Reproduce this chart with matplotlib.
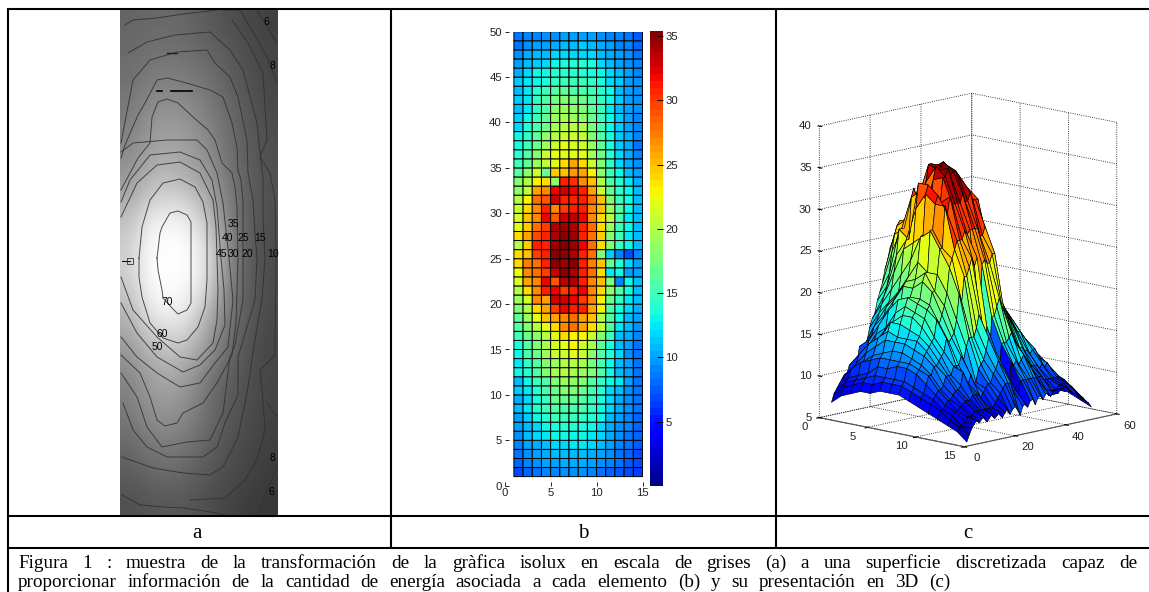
import numpy as np
import matplotlib
matplotlib.use('Agg')
import matplotlib.pyplot as plt
from mpl_toolkits.mplot3d import Axes3D, proj3d

W, H = 1149, 592

# panel b / c: energy per element, rows from y=1 (bottom) to y=50 (top)
energy_rows_top_down = [
    [8.5, 9, 9, 9.5, 9.5, 10, 10, 10, 10, 9.5, 9, 9, 8.5, 7.5],
    [8.5, 9.5, 10, 10, 10.5, 11, 11, 11.5, 11, 10.5, 10, 9, 9, 8],
    [9.5, 10.5, 11, 11, 12, 12, 12, 12, 12, 11, 10.5, 10, 9.5, 8.5],
    [10, 11, 11.5, 12, 13, 13.5, 14, 14, 13.5, 12, 11, 10, 9.5, 9],
    [10.5, 12, 13, 13, 14, 14, 14, 14, 13.5, 13, 12, 11, 10, 9],
    [11.5, 12.5, 13, 13.5, 14.5, 15, 15, 15, 14.5, 13.5, 12, 11.5, 10, 9.5],
    [11, 12.5, 14, 15, 16, 16.5, 16, 15.5, 15, 14, 13, 11, 10, 9.5],
    [11.5, 12.5, 14.5, 16, 17.5, 18, 17.5, 17, 16, 14.5, 13, 11.5, 10, 9.5],
    [11, 12.5, 14.5, 16, 18.5, 19, 18.5, 18, 16.5, 15, 12.5, 11, 10, 9.5],
    [11.5, 13, 15, 16.5, 19, 19.5, 19, 18.5, 17, 15, 13, 11.5, 10, 9],
    [12, 14, 15.5, 17, 19.5, 20, 20, 20, 17.5, 15.5, 13, 11.5, 10, 9],
    [13, 14.5, 16.5, 18.5, 20, 21, 21, 20.5, 18, 16, 13.5, 11.5, 10.5, 9],
    [13.5, 15, 17, 19, 21, 22, 21.5, 21, 19, 16.5, 13.5, 11.5, 10.5, 8.5],
    [14, 16, 18, 21, 22, 22, 22, 22, 19.5, 17, 14, 12, 10.5, 9],
    [15, 16.5, 19, 20.5, 22, 24, 26, 24, 21, 18, 14.5, 12, 10.5, 9.5],
    [16, 18.5, 21, 16.5, 24.5, 25, 26.5, 26, 23, 18.5, 15, 13, 11, 10],
    [18, 20, 23, 24, 18.5, 31, 30.5, 27, 25, 20, 16, 14, 12.5, 10.5],
    [18.5, 20.5, 26, 27, 32, 33, 32, 31, 26, 21, 17, 14.5, 13, 11],
    [20, 23, 28, 29, 33, 31, 31, 31, 28, 25, 18, 15, 13.5, 11],
    [21, 24, 27, 31, 27, 30, 31, 31, 27, 25, 19, 16, 13, 11],
    [21.5, 25, 27, 32, 29, 33, 33.5, 32, 27, 24, 20, 15.5, 12.5, 11],
    [22, 24.5, 28, 30, 34, 34.5, 34, 31, 28, 24, 19, 15, 13, 11],
    [24, 26, 29.5, 31, 34, 35, 34.5, 31, 28, 24.5, 18, 15, 12.5, 11],
    [20, 24.5, 31, 31, 34.5, 35.4, 34.5, 32, 28, 24, 18, 15, 13, 11],
    [24, 25, 30, 31, 35, 35, 34, 31, 28, 18, 11.5, 9, 7, 9],
    [24, 27.5, 28, 31, 35, 34.5, 35, 31, 27.5, 25, 17, 14, 12, 10],
    [22.5, 27, 28, 30, 33, 35, 34, 31, 28, 24, 12.5, 13, 10, 10],
    [21.5, 26, 27, 32, 29, 33.5, 34, 31, 27, 25, 18, 9, 13, 11],
    [20, 24, 27, 31, 32, 30, 31, 32, 27, 24, 18.5, 16, 13.5, 11],
    [19, 21.5, 27, 26, 33, 33, 32, 30, 27, 23, 17, 14.5, 12.5, 11],
    [18, 20, 24, 26, 30, 32, 31, 31, 26, 23, 16, 13.5, 12, 10.5],
    [16.5, 19, 22, 25, 26, 27, 28, 26, 25, 20, 16, 13, 11, 10],
    [16, 18, 20, 22, 24, 27, 28, 26, 24, 21, 16, 12.5, 11, 9.5],
    [15, 17, 18.5, 20, 22, 24, 23, 23, 21, 18, 15, 11, 10.5, 9],
    [13.5, 16, 18, 19.5, 21.5, 22, 23, 21, 19.5, 16.5, 13.5, 11, 10, 8.5],
    [13, 15.5, 17, 19, 21, 21, 22, 21, 18.5, 16, 14, 12, 9.5, 8.5],
    [12.5, 14.5, 16, 18, 19, 20, 20, 19.5, 17.5, 15.5, 13, 11, 10, 8.5],
    [13, 14, 16, 18, 19.5, 20, 19.5, 19, 18, 16, 13, 11, 10, 8.5],
    [11, 13, 15, 16, 18, 19, 18.5, 18, 16, 14.5, 13, 12.5, 10, 8.5],
    [11.5, 12.5, 14, 15.5, 17, 18, 18, 17, 15.5, 14, 12, 11, 9.5, 8.5],
    [10.5, 12, 13.5, 15, 17, 17, 16.5, 16, 15, 13.5, 12, 10.5, 9.5, 8.5],
    [11, 12.5, 14, 15, 16, 15.5, 15.5, 15.5, 14.5, 13, 12, 10.5, 9.5, 8.5],
    [10, 11.5, 13, 14, 15, 15, 15, 14.5, 14, 13, 11, 10, 9, 8],
    [10, 11, 12, 13, 13.5, 14, 14, 13.5, 13, 12, 10.5, 9.5, 9, 8],
    [9.5, 11, 12, 12.5, 13, 13, 13, 13, 12.5, 12, 10.5, 9.5, 8.5, 8],
    [9, 10, 10.5, 11, 12, 12, 12.5, 12.5, 12, 11, 10, 9, 8.5, 7.5],
    [8.5, 9.5, 10, 10.5, 11, 11, 11, 11, 10.5, 10, 9.5, 8.5, 8, 7],
    [8, 9, 9.5, 10, 10, 10.5, 10.5, 10.5, 10, 9.5, 9, 8.5, 7.5, 7],
    [7, 8, 8.5, 9, 9, 9.5, 9.5, 9.5, 9, 8.5, 8, 7.5, 7, 6.5],
]
# the surface in c also has the last row and column that pcolor in b leaves out
energy_y50 = [7.5, 8, 8, 8.5, 8.5, 9, 9, 9, 9, 8.5, 8, 8, 7.5, 7]
energy_x15_bottom_up = [5.5, 6.3, 7, 7.5, 7.8, 7.5, 7.9, 8, 7.4, 7.8, 8.2, 7.6, 7.9, 8.3, 7.5, 8, 8.4, 7.7, 8.2, 8.5,
                        8, 7.3, 8.3, 8.6, 8.1, 8.8, 8.9, 8.2, 9, 9.1, 8.6, 9.2, 9.3, 8.8, 9.3, 9.4, 9, 9.4, 9.5, 9,
                        9.3, 8.8, 8.5, 8.7, 8.2, 8, 7.7, 7.3, 7, 6.5]

b_xticks = [0, 5, 10, 15]
b_yticks = [0, 5, 10, 15, 20, 25, 30, 35, 40, 45, 50]
cbar_ticks = [5, 10, 15, 20, 25, 30, 35]
c_xticks = [0, 5, 10, 15]
c_yticks = [0, 20, 40, 60]
c_zticks = [5, 10, 15, 20, 25, 30, 35, 40]

# panel a: grey levels of the isolux picture, top to bottom
grey_levels = [
    [100, 105, 105, 100, 90, 80, 72, 65],
    [105, 112, 112, 108, 100, 88, 76, 68],
    [110, 122, 125, 120, 110, 95, 80, 70],
    [118, 135, 140, 135, 120, 102, 85, 72],
    [125, 148, 155, 148, 130, 108, 90, 75],
    [135, 160, 168, 158, 138, 112, 92, 78],
    [150, 178, 185, 170, 150, 118, 95, 80],
    [170, 205, 215, 205, 170, 125, 95, 80],
    [195, 240, 248, 240, 195, 130, 95, 78],
    [205, 252, 255, 252, 220, 140, 92, 75],
    [205, 252, 255, 252, 220, 135, 92, 75],
    [190, 240, 250, 240, 195, 125, 90, 75],
    [170, 215, 228, 215, 165, 115, 88, 72],
    [150, 180, 195, 185, 145, 105, 82, 70],
    [135, 160, 170, 155, 120, 95, 80, 70],
    [125, 150, 155, 140, 110, 90, 78, 68],
    [115, 135, 140, 125, 105, 85, 75, 65],
    [100, 115, 120, 110, 95, 80, 70, 62],
    [90, 100, 105, 98, 85, 75, 68, 60],
    [80, 85, 88, 85, 78, 68, 60, 55],
]

# isolux lines, in picture pixels
iso_70 = [(157, 258), (160, 233), (162, 227), (170, 213), (178, 211), (187, 215), (191, 222), (191, 258),
          (191, 303), (187, 310), (178, 314), (172, 308), (163, 298), (162, 290), (158, 270), (157, 258)]
iso_60 = [(139, 258), (142, 227), (150, 200), (163, 183), (180, 179), (195, 187), (203, 202), (207, 223), (207, 258),
          (207, 280), (205, 307), (198, 327), (187, 340), (178, 343), (163, 338), (150, 323), (142, 297), (139, 277), (139, 258)]
iso_50 = [(121, 217), (137, 183), (157, 165), (180, 162), (200, 173), (213, 200), (216, 227), (217, 258), (218, 290),
          (217, 320), (213, 343), (197, 360), (180, 357), (157, 337), (133, 310), (121, 277)]
iso_45 = [(121, 202), (130, 180), (150, 155), (180, 152), (200, 160), (212, 180), (217, 207), (221, 258), (224, 290),
          (225, 325), (215, 350), (200, 365), (183, 372), (157, 357), (137, 333), (121, 303)]
iso_40 = [(121, 152), (133, 143), (167, 140), (197, 140), (207, 150), (217, 173), (223, 203), (229, 258), (233, 300),
          (228, 347), (215, 363), (200, 383), (180, 387), (157, 373), (137, 357), (121, 337)]
iso_35 = [(121, 190), (138, 158), (150, 143), (152, 117), (158, 102), (167, 99), (178, 103), (193, 117), (208, 130),
          (215, 140), (222, 163), (232, 173), (235, 187), (237, 207), (238, 258), (236, 323), (232, 355), (217, 383),
          (203, 403), (183, 413), (177, 423), (165, 426), (157, 420), (150, 397), (140, 373), (121, 355)]
iso_30 = [(121, 158), (125, 145), (138, 115), (145, 103), (157, 80), (167, 78), (183, 82), (210, 90), (223, 97),
          (232, 123), (237, 147), (238, 170), (241, 180), (243, 200), (243, 258), (243, 300), (235, 345), (230, 357),
          (223, 413), (210, 440), (187, 442), (162, 447), (147, 427), (137, 397), (121, 373)]
iso_25 = [(121, 143), (133, 80), (150, 60), (177, 52), (207, 50), (215, 63), (230, 77), (238, 97), (247, 140), (248, 173),
          (253, 200), (255, 233), (257, 258), (255, 300), (247, 327), (238, 357), (238, 395), (225, 423), (217, 447),
          (203, 457), (167, 457), (147, 447), (133, 430), (123, 403)]
iso_20 = [(128, 53), (147, 42), (175, 35), (210, 32), (230, 50), (243, 70), (257, 123), (263, 180), (263, 217), (265, 258),
          (262, 300), (255, 340), (247, 393), (238, 437), (223, 467), (210, 475), (183, 473), (153, 468), (122, 457)]
iso_15 = [(125, 25), (133, 20), (157, 18), (183, 14), (217, 10)]
iso_10 = [(232, 20), (248, 43), (263, 73), (267, 140), (260, 157), (270, 173), (275, 200), (276, 258), (275, 355), (260, 370),
          (263, 400), (265, 430), (257, 460), (245, 480), (225, 498), (190, 500)]
iso_8a = [(222, 10), (240, 10), (250, 27), (267, 57), (277, 83)]
iso_6a = [(257, 10), (277, 43)]
iso_8b = [(267, 403), (277, 417)]
iso_6b = [(277, 467), (263, 500), (258, 515)]
iso_5b = [(122, 495), (140, 505), (165, 507), (183, 508), (205, 511), (225, 515)]
iso_lines = [iso_70, iso_60, iso_50, iso_45, iso_40, iso_35, iso_30, iso_25, iso_20, iso_15, iso_10,
             iso_8a, iso_6a, iso_8b, iso_6b, iso_5b]
iso_labels = ['35', '40', '25', '15', '45', '30', '20', '10', '70', '60', '50', '6', '8', '8', '6']
iso_label_x = [233, 227, 243, 260, 221, 233, 247, 273, 167, 162, 157, 266, 272, 272, 271]
iso_label_y = [224, 238, 238, 238, 254, 254, 254, 254, 302, 334, 347, 22, 66, 458, 492]

CAPTION_1 = ('Figura 1 : muestra de la transformación de la gràfica isolux en escala de grises '
             '(a) a una superficie discretizada capaz de')
CAPTION_2 = ('proporcionar información de la cantidad de energía asociada a cada elemento (b) '
             'y su presentación en 3D (c)')


def px_axes(fig, left, top, right, bottom, **kw):
    return fig.add_axes([left / W, 1 - bottom / H, (right - left) / W, (bottom - top) / H], **kw)


plt.rcParams['font.family'] = ['Liberation Sans', 'DejaVu Sans']
fig = plt.figure(figsize=(W / 100, H / 100), dpi=100, facecolor='white')

# table frame and caption
bg = fig.add_axes([0, 0, 1, 1])
bg.set_xlim(0, W)
bg.set_ylim(H, 0)
bg.axis('off')
for y in [9, 516, 548]:
    bg.plot([7, W], [y, y], color='k', lw=1.5, solid_capstyle='butt')
bg.plot([8, 8], [8, H], color='k', lw=1.5, solid_capstyle='butt')
for x in [391, 776]:
    bg.plot([x, x], [9, 548], color='k', lw=1.5, solid_capstyle='butt')
for label, x in zip(['a', 'b', 'c'], [197, 583, 968]):
    bg.text(x, 533, label, fontsize=15, family='Liberation Serif', ha='center', va='center')


def justified(text, x0, x1, y):
    # place word by word so the line fills the cell like the original
    words = text.split(' ')
    fig.canvas.draw()
    rend = fig.canvas.get_renderer()
    items = [bg.text(0, y, w, fontsize=13.8, family='Liberation Serif', va='baseline') for w in words]
    widths = [t.get_window_extent(rend).width for t in items]
    gap = (x1 - x0 - sum(widths)) / (len(words) - 1)
    x = x0
    for t, w in zip(items, widths):
        t.set_x(x)
        x += w + gap


justified(CAPTION_1, 18, 1137, 568)
justified(CAPTION_2, 18, 950, 587)

# panel a
ax_a = px_axes(fig, 120, 10, 278, 515)
ax_a.imshow(np.array(grey_levels), cmap='gray', vmin=0, vmax=255, aspect='auto',
            interpolation='bicubic', extent=(120, 278, 515, 10))
for line in iso_lines:
    xs, ys = zip(*line)
    ax_a.plot(xs, ys, color='#303030', lw=0.7, alpha=0.85)
for t, x, y in zip(iso_labels, iso_label_x, iso_label_y):
    ax_a.text(x, y, t, fontsize=7.5, color='k', ha='center', va='center')
ax_a.plot([157, 162], [91, 91], color='k', lw=1.2)
ax_a.plot([171, 192], [91, 91], color='k', lw=1.2)
ax_a.plot([167, 177], [53, 53], color='#202020', lw=1)
ax_a.plot([122, 130], [261, 261], color='k', lw=0.7)
ax_a.plot([130], [261], marker='s', ms=5, mfc='none', mec='#303030', mew=0.6)
ax_a.set_xlim(120, 278)
ax_a.set_ylim(515, 10)
ax_a.axis('off')

# panel b
energy = np.array(energy_rows_top_down)[::-1]
x_edges = np.arange(1, 16)
y_edges = np.arange(1, 51)
ax_b = px_axes(fig, 504.7, 31.7, 642.5, 485.7)
mesh = ax_b.pcolormesh(x_edges, y_edges, energy, cmap='jet', vmin=0, vmax=35.4, edgecolors='k', linewidth=0.7,
                       antialiased=True)
mesh.set_snap(False)
ax_b.set_xlim(0, 15)
ax_b.set_ylim(0, 50)
ax_b.set_xticks(b_xticks)
ax_b.set_yticks(b_yticks)
ax_b.tick_params(direction='in', length=3, width=0.6, labelsize=8.2, pad=2, labelcolor='#222222', color='k')
for s in ax_b.spines.values():
    s.set_visible(False)

cax = px_axes(fig, 650, 31, 662.5, 486)
grad = np.linspace(0, 35.4, 65)
cax.pcolormesh([0, 1], grad, ((grad[:-1] + grad[1:]) / 2)[:, None], cmap='jet', vmin=0, vmax=35.4)
cax.set_xticks([])
cax.yaxis.tick_right()
cax.set_yticks(cbar_ticks)
cax.tick_params(direction='in', length=4, width=0.7, labelsize=8.2, pad=2, labelcolor='#222222', color='k')
for s in cax.spines.values():
    s.set_visible(False)

# panel c
ax_c = px_axes(fig, 777, 60, 1149, 490, projection='3d', proj_type='ortho')
ax_c.patch.set_alpha(0)
surf = np.vstack([energy, energy_y50])
surf = np.column_stack([surf, energy_x15_bottom_up])
X, Y = np.meshgrid(x_edges, y_edges)
colors = plt.get_cmap('jet')((surf - 5) / (35.4 - 5))
ax_c.plot_surface(X, Y, surf, facecolors=colors, rstride=1, cstride=1, shade=False,
                  edgecolor='k', linewidth=0.45, antialiased=True)
ax_c.set_xlim(0, 15)
ax_c.set_ylim(0, 60)
ax_c.set_zlim(5, 40)
ax_c.set_box_aspect((595, 648, 880), zoom=1.1)
ax_c.view_init(elev=12, azim=-46)
ax_c.set_xticks(c_xticks)
ax_c.set_yticks(c_yticks)
ax_c.set_zticks(c_zticks)
ax_c.set_xticklabels([])
ax_c.set_yticklabels([])
ax_c.set_zticklabels([])
ax_c.zaxis._axinfo['juggled'] = (1, 0, 2)
for axis in [ax_c.xaxis, ax_c.yaxis, ax_c.zaxis]:
    axis.set_pane_color((1, 1, 1, 0))
    axis.pane.set_edgecolor('none')
    axis._axinfo['grid'].update(color='k', linestyle=':', linewidth=0.6)
    axis.line.set_color('#555555')
ax_c.zaxis.line.set_linestyle(':')

fig.canvas.draw()


def label_3d(x, y, z, text, **kw):
    # tick labels sit closer to the box than mplot3d puts them, so project them by hand
    px, py, _ = proj3d.proj_transform(x, y, z, ax_c.get_proj())
    disp = ax_c.transData.transform((px, py))
    bx, by = bg.transData.inverted().transform(disp)
    bg.text(bx, by, text, fontsize=8.2, color='#222222', va='center', **kw)


for v in c_xticks:
    label_3d(v + 0.3, -7, 4.4, str(v), ha='center')
for v in c_yticks:
    label_3d(16.3, v, 3.9, str(v), ha='center')
for v in c_zticks:
    label_3d(0, -3, v + 0.15, str(v), ha='right')

fig.savefig('out.png', dpi=100)
